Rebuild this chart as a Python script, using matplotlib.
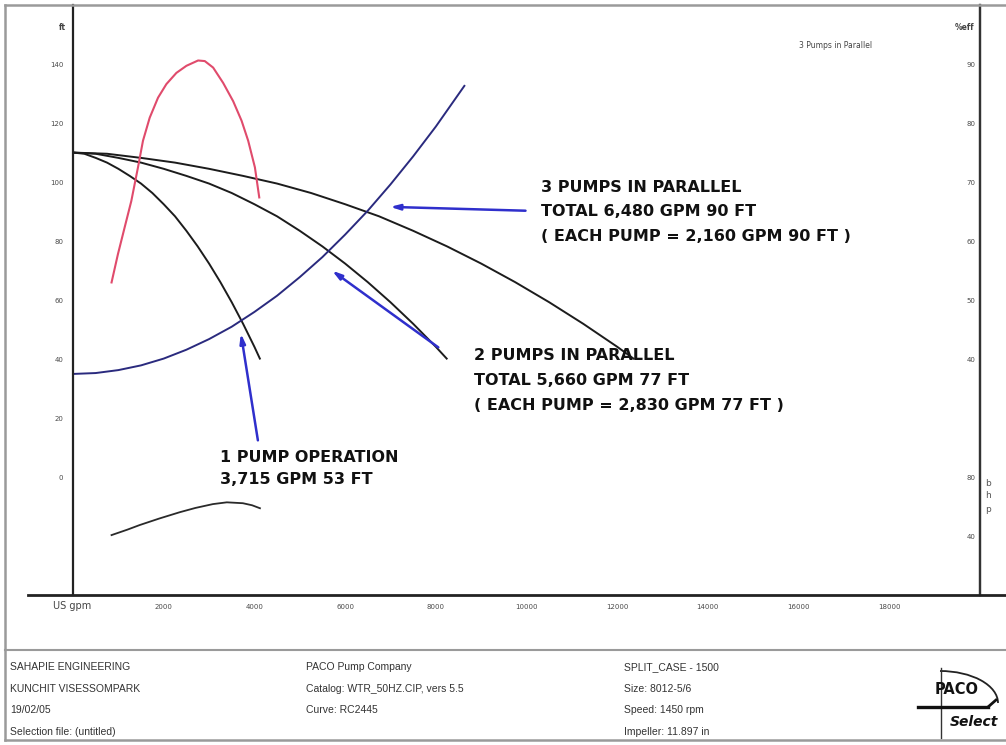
import numpy as np
import matplotlib.pyplot as plt
from matplotlib.lines import Line2D
from matplotlib.patches import Arc

# pump head curves (US gpm, ft): one pump, two and three in parallel
q_one = [0, 250, 500, 750, 1000, 1250, 1500, 1750, 2000, 2250, 2500, 2750,
         3000, 3250, 3500, 3750, 4000, 4120]
q_two = [0, 500, 1000, 1500, 2000, 2500, 3000, 3500, 4000, 4500, 5000, 5500,
         6000, 6500, 7000, 7500, 8000, 8240]
q_three = [0, 750, 1500, 2250, 3000, 3750, 4500, 5250, 6000, 6750, 7500, 8250,
           9000, 9750, 10500, 11250, 12000, 12360]
head = [110, 109.6, 108.2, 106.6, 104.5, 102.1, 99.5, 96.3, 92.5, 88.4, 83.5, 78.2,
        72.4, 66.1, 59.3, 52.0, 44.2, 40.2]

# system curve
q_sys = [0, 500, 1000, 1500, 2000, 2500, 3000, 3500, 4000, 4500, 5000, 5500,
         6000, 6500, 7000, 7500, 8000, 8630]
h_sys = [35, 35.3, 36.3, 37.9, 40.2, 43.2, 46.8, 51.0, 56.0, 61.5, 67.8, 74.6,
         82.2, 90.3, 99.2, 108.7, 118.8, 132.6]

# efficiency curve (%eff)
q_eff = [850, 991, 1138, 1286, 1433, 1543, 1691, 1875, 2059, 2280, 2501, 2758,
         2906, 3090, 3311, 3532, 3717, 3863, 4011, 4107]
eff = [53.0, 57.8, 62.3, 66.8, 72.5, 77.0, 80.9, 84.3, 86.6, 88.5, 89.7, 90.6,
       90.5, 89.4, 86.8, 83.7, 80.4, 77.0, 72.5, 67.4]

# brake horsepower curve
q_bhp = [850, 1200, 1470, 1900, 2354, 2700, 3085, 3392, 3746, 3950, 4122]
bhp = [40.8, 44.5, 47.6, 52.0, 56.3, 59.2, 61.8, 63.0, 62.4, 61.0, 59.0]

ft_ticks = [0, 20, 40, 60, 80, 100, 120, 140]
eff_ticks = [40, 50, 60, 70, 80, 90]
bhp_ticks = [40, 80]
x_ticks = [2000, 4000, 6000, 8000, 10000, 12000, 14000, 16000, 18000]

W, H = 1006, 745
fig = plt.figure(figsize=(W/100, H/100), dpi=100)

def px(x, y):
    return x/W, 1 - y/H

left, right, bottom, top = 73, 980, 595.3, 5
ax = fig.add_axes([left/W, 1-bottom/H, (right-left)/W, (bottom-top)/H])
ax.set_xlim(0, 20000)
ax.set_ylim(-40, 160)
for s in ['top', 'right', 'bottom']:
    ax.spines[s].set_visible(False)
ax.spines['left'].set_linewidth(1.6)
ax.spines['left'].set_color('#222222')

tick_col = '#4a4a4a'
ax.set_yticks(ft_ticks)
ax.set_yticklabels([str(t) for t in ft_ticks])
ax.set_xticks(x_ticks)
ax.set_xticklabels([str(t) for t in x_ticks])
ax.tick_params(axis='both', length=0, labelsize=5, labelcolor=tick_col)
ax.tick_params(axis='y', pad=7)
ax.tick_params(axis='x', pad=6)

# head curves
for q in (q_one, q_two, q_three):
    ax.plot(q, head, color='#1c1c1c', lw=1.4)
ax.plot(q_sys, h_sys, color='#2a2a7e', lw=1.4)

# efficiency on its own right-hand scale
ax2 = ax.twinx()
ax2.set_ylim(0, 100)
ax2.plot(q_eff, eff, color='#e04b6c', lw=1.5)
ax2.set_yticks(eff_ticks)
ax2.set_yticklabels([str(t) for t in eff_ticks])

# bhp on another right-hand scale
ax3 = ax.twinx()
ax3.set_ylim(0, 400)
ax3.plot(q_bhp, bhp, color='#2a2a2a', lw=1.3)
ax3.set_yticks(bhp_ticks)
ax3.set_yticklabels([str(t) for t in bhp_ticks])

for a in (ax2, ax3):
    for s in ['top', 'left', 'bottom']:
        a.spines[s].set_visible(False)
    a.spines['right'].set_linewidth(1.6)
    a.spines['right'].set_color('#333333')
    a.tick_params(axis='y', length=0, labelsize=5, labelcolor=tick_col, pad=-3)
    plt.setp(a.get_yticklabels(), ha='right')

# axis captions
fig.text(*px(62, 28), 'ft', fontsize=5.5, fontweight='bold', color='#444444', ha='center', va='center')
fig.text(*px(974, 28), '%eff', fontsize=5.5, fontweight='bold', color='#444444', ha='right', va='center')
fig.text(*px(836, 45), '3 Pumps in Parallel', fontsize=5.5, color='#444444', ha='center', va='center')
for i, ch in enumerate('bhp'):
    fig.text(*px(988, 483 + 13*i), ch, fontsize=6.5, color='#555555', ha='center', va='center')
fig.text(*px(72, 606), 'US gpm', fontsize=7, color='#444444', ha='center', va='center')

# callouts
blue = '#2f2fcc'
arrows = [((9978, 90.3), (6994, 91.6)),
          ((8055, 44.0), (5713, 70.0)),
          ((4077, 12.5), (3702, 48.7))]
for start, end in arrows:
    ax.annotate('', xy=end, xytext=start,
                arrowprops=dict(arrowstyle='-|>,head_length=0.55,head_width=0.16',
                                color=blue, lw=1.8, shrinkA=0, shrinkB=0))

labels = [
    (10309, [98.1, 90.0, 81.5], ['3 PUMPS IN PARALLEL', 'TOTAL 6,480 GPM 90 FT',
                                  '( EACH PUMP = 2,160 GPM 90 FT )']),
    (8851, [41.3, 32.8, 24.3], ['2 PUMPS IN PARALLEL', 'TOTAL 5,660 GPM 77 FT',
                                 '( EACH PUMP = 2,830 GPM 77 FT )']),
    (3238, [6.8, -0.6], ['1 PUMP OPERATION', '3,715 GPM 53 FT']),
]
for x0, ys, lines in labels:
    for y0, txt in zip(ys, lines):
        ax.text(x0, y0, txt, fontsize=11.5, fontweight='bold', family='DejaVu Sans',
                color='#111111', ha='left', va='center')

# frame lines
frame_col = '#9a9a9a'
fig.add_artist(Line2D([5/W, 5/W], [1-5/H, 1-740/H], color=frame_col, lw=1.8))
fig.add_artist(Line2D([5/W, 1], [1-5/H, 1-5/H], color=frame_col, lw=1.8))
fig.add_artist(Line2D([5/W, 1], [1-740/H, 1-740/H], color=frame_col, lw=1.8))
fig.add_artist(Line2D([5/W, 1], [1-650/H, 1-650/H], color=frame_col, lw=1.5))
fig.add_artist(Line2D([28/W, 1], [1-595.3/H, 1-595.3/H], color='#222222', lw=2.0))

# footer
foot = [
    (10, ['SAHAPIE ENGINEERING', 'KUNCHIT VISESSOMPARK', '19/02/05', 'Selection file: (untitled)']),
    (306, ['PACO Pump Company', 'Catalog: WTR_50HZ.CIP, vers 5.5', 'Curve: RC2445']),
    (624, ['SPLIT_CASE - 1500', 'Size: 8012-5/6', 'Speed: 1450 rpm', 'Impeller: 11.897 in']),
]
for x0, rows in foot:
    for i, txt in enumerate(rows):
        fig.text(*px(x0, 667 + 21.7*i), txt, fontsize=7.5, family='Liberation Sans',
                 color='#333333', ha='left', va='center')

# logo
lax = fig.add_axes([0, 0, 1, 1], facecolor='none')
lax.set_xlim(0, W)
lax.set_ylim(H, 0)
lax.axis('off')
lax.add_patch(Arc((940, 703), 116, 64, theta1=270, theta2=360, color='#222222', lw=1.3))
lax.plot([941, 941], [668, 738], color='#333333', lw=1.0)
lax.plot([918, 988], [707, 707], color='#111111', lw=2.4)
lax.plot([988, 996], [707, 700], color='#111111', lw=2.0)
lax.text(957, 689, 'PACO', fontsize=10.5, fontweight='bold', family='DejaVu Sans',
         color='#111111', ha='center', va='center')
lax.text(974, 722, 'Select', fontsize=10, fontweight='bold', style='italic',
         family='DejaVu Sans', color='#111111', ha='center', va='center')

fig.savefig('out.png', dpi=100)
